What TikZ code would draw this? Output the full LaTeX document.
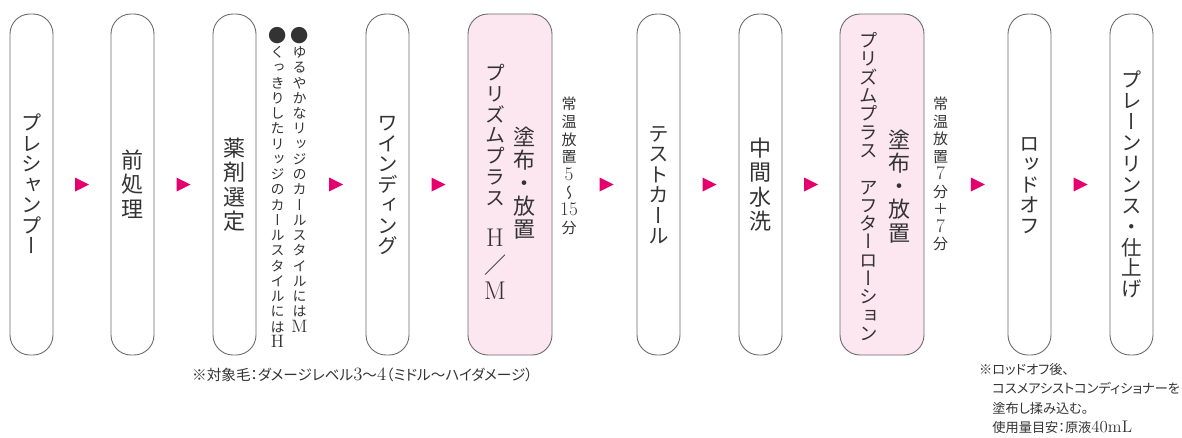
\documentclass[tikz,border=0pt]{standalone}
\usepackage{fontspec}
\usetikzlibrary{calc}

\newfontfamily\tatefont[RawFeature=+vert]{Noto Sans CJK JP}
\newfontfamily\yokofont[RawFeature=+palt]{Noto Sans CJK JP}
\newcommand\tsize[1]{\fontsize{#1}{#1}\selectfont}
\newcommand\lat[1]{{\rmfamily\scalebox{1.28}{#1}}}

\definecolor{boxline}{HTML}{6B6B6B}
\definecolor{boxpink}{HTML}{FCE6EF}
\definecolor{arrowpink}{HTML}{E5006E}
\definecolor{textgray}{HTML}{333333}

% 竖排文字:每个字一格, 可选参数为字距(em)
\ExplSyntaxOn
\dim_new:N \l__tate_gap_dim
\bool_new:N \l__tate_first_bool
\NewDocumentCommand \tate { O{1} m }
  {
    \vbox
      {
        \offinterlineskip
        \dim_set:Nn \l__tate_gap_dim { #1 em - 1 em }
        \bool_set_true:N \l__tate_first_bool
        \tl_map_inline:nn {#2}
          {
            \bool_if:NF \l__tate_first_bool { \kern \l__tate_gap_dim }
            \bool_set_false:N \l__tate_first_bool
            \hbox~to~1em{\hss\vrule~height~.88em~depth~.12em~width~0pt\relax ##1\hss}
          }
      }
  }
\ExplSyntaxOff

\tikzset{
  stepbox/.style={draw=boxline, line width=0.9pt, rounded corners=20pt,
    minimum width=43pt, minimum height=341pt, inner sep=0pt, text=textgray},
  pinkbox/.style={stepbox, fill=boxpink, minimum width=84pt},
  tatetext/.style={inner sep=0pt, text=textgray},
  note/.style={inner sep=0pt, text=textgray, font=\yokofont\fontsize{14.6}{19.5}\selectfont},
}

\begin{document}
\begin{tikzpicture}[x=1pt, y=-1pt]
  \useasboundingbox (0,0) rectangle (1182,437);

  % 工序框
  \node[stepbox, font=\tatefont\tsize{20.5}] (b1) at (31.5,184.5) {\tate{プレシャンプー}};
  \node[stepbox, font=\tatefont\tsize{22}] (b2) at (132.5,184.5) {\tate[1.11]{前処理}};
  \node[stepbox, font=\tatefont\tsize{22}] (b3) at (234.5,184.5) {\tate[1.11]{薬剤選定}};
  \node[stepbox, font=\tatefont\tsize{20.5}] (b4) at (387.5,184.5) {\tate{ワインディング}};
  \node[pinkbox] (b5) at (510,184.5) {};
  \node[stepbox, font=\tatefont\tsize{20.5}] (b6) at (658.5,184.5) {\tate{テストカール}};
  \node[stepbox, font=\tatefont\tsize{22}] (b7) at (760.5,184.5) {\tate[1.11]{中間水洗}};
  \node[pinkbox] (b8) at (882,184.5) {};
  \node[stepbox, font=\tatefont\tsize{20.5}] (b9) at (1029.5,184.5) {\tate{ロッドオフ}};
  \node[stepbox, font=\tatefont\tsize{20.5}] (b10) at (1131.5,184.5) {\tate[1.02]{プレーンリンス・仕上げ}};

  % 药剂选择的说明
  \node[tatetext, font=\tatefont\tsize{14}, anchor=north] (n1) at (299.5,27)
    {\tate[1.09]{{\scalebox{1.3}{●}}ゆるやかなリッジのカールスタイルには{\lat{M}}}};
  \node[tatetext, font=\tatefont\tsize{14}, anchor=north] (n2) at (277.5,27)
    {\tate[1.09]{{\scalebox{1.3}{●}}くっきりしたリッジのカールスタイルには{\lat{H}}}};

  % 粉色框里的文字
  \node[tatetext, font=\tatefont\tsize{20}, anchor=north] (b5name) at (495,63) {\tate[1.035]{プリズムプラス}};
  \node[tatetext, font=\tatefont\tsize{20}, anchor=north] (b5type) at (495,229)
    {\tate[1.3]{{\lat{H}}{\yokofont\scalebox{1.1}{／}}{\lat{M}}}};
  \node[tatetext, font=\tatefont\tsize{22}] (b5act) at (524,183) {\tate[1.05]{塗布・放置}};
  \node[tatetext, font=\tatefont\tsize{18.5}, anchor=north] (b8name) at (869,31)
    {\tate[0.99]{プリズムプラス　アフターローション}};
  \node[tatetext, font=\tatefont\tsize{22}] (b8act) at (899,186.5) {\tate[1.05]{塗布・放置}};

  % 放置时间
  \node[tatetext, font=\tatefont\tsize{15}] (t1) at (569,166)
    {\tate[1.18]{常温放置{\lat{5}}〜{\lat{15}}分}};
  \node[tatetext, font=\tatefont\tsize{15}] (t2) at (940.5,174)
    {\tate[1.17]{常温放置{\lat{7}}分＋{\lat{7}}分}};

  % 三角箭头
  \foreach \a/\b in {b1/b2,b2/b3,n1/b4,b4/b5,t1/b6,b6/b7,b7/b8,t2/b9,b9/b10}{
    \coordinate (m) at ($(\a.east)!.5!(\b.west)$);
    \fill[arrowpink] (m |- \b.west) ++(-7,-7) -- ++(14,7) -- ++(-14,7) -- cycle;
  }

  % 注释
  \node[note, anchor=west] (f1) at (192,375)
    {※対象毛：ダメージレベル\lat{3}〜\lat{4}（ミドル〜ハイダメージ）};
  \node[note, font=\yokofont\fontsize{13.2}{19.5}\selectfont, anchor=north west, align=left] (f2) at (979,363)
    {※ロッドオフ後、\\
     \hphantom{※}コスメアシストコンディショナーを\\
     \hphantom{※}塗布し揉み込む。\\
     \hphantom{※}使用量目安：原液\lat{40mL}};

\end{tikzpicture}
\end{document}
